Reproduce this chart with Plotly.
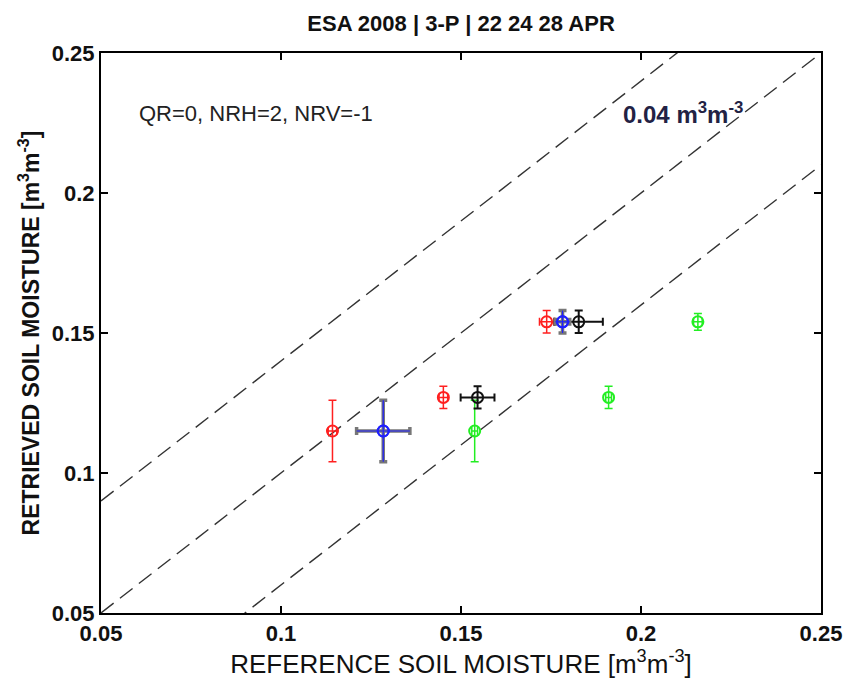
import plotly.graph_objects as go

# Data (reference vs retrieved soil moisture)
red_x = [0.1143, 0.1451, 0.1738]
red_y = [0.115, 0.127, 0.154]
red_ex = [0.0012, 0.0012, 0.0020]
red_ey = [0.011, 0.004, 0.004]

blue_x = [0.1284, 0.1782]
blue_y = [0.115, 0.154]
blue_ex = [0.0074, 0.0020]
blue_ey = [0.011, 0.004]

black_x = [0.1546, 0.1827]
black_y = [0.127, 0.154]
black_ex = [0.0047, 0.0067]
black_ey = [0.004, 0.004]

green_x = [0.1538, 0.191, 0.2158]
green_y = [0.115, 0.127, 0.154]
green_ex = [0.0008, 0.0008, 0.0012]
green_ey = [0.011, 0.004, 0.003]

line_x = [0.05, 0.25]
offsets = [0.04, 0.0, -0.04]

xticks = [0.05, 0.1, 0.15, 0.2, 0.25]
yticks = [0.05, 0.1, 0.15, 0.2, 0.25]

FONT = "Liberation Sans, Arial"

fig = go.Figure()

for off in offsets:
    fig.add_trace(go.Scatter(
        x=line_x, y=[v + off for v in line_x], mode="lines",
        line=dict(color="#333333", width=1.4, dash="16px,8px"),
        showlegend=False, hoverinfo="skip"))

def add_series(xs, ys, ex, ey, color, barcolor=None, thick=1.5):
    bc = barcolor or color
    fig.add_trace(go.Scatter(
        x=xs, y=ys, mode="markers",
        marker=dict(symbol="circle-open", size=11, color=color, line=dict(width=2)),
        error_x=dict(type="data", array=ex, color=bc, thickness=thick, width=4),
        error_y=dict(type="data", array=ey, color=bc, thickness=thick, width=4),
        showlegend=False))

add_series(red_x, red_y, red_ex, red_ey, "#ff2020")
add_series(green_x, green_y, green_ex, green_ey, "#22ee22")
add_series(black_x, black_y, black_ex, black_ey, "#111111", thick=2)
add_series(blue_x, blue_y, blue_ex, blue_ey, "#2020ff", barcolor="#777777", thick=3.5)
fig.add_trace(go.Scatter(
    x=blue_x, y=blue_y, mode="markers",
    marker=dict(symbol="circle-open", size=11, color="#2020ff", line=dict(width=2)),
    error_x=dict(type="data", array=blue_ex, color="#2020ff", thickness=1.2, width=0),
    error_y=dict(type="data", array=blue_ey, color="#2020ff", thickness=1.2, width=0),
    showlegend=False))

fig.add_annotation(x=0.06, y=0.2285, xref="x", yref="y", xanchor="left",
                   text="QR=0, NRH=2, NRV=-1", showarrow=False,
                   font=dict(family=FONT, size=22, color="#222222"))
fig.add_annotation(x=0.2117, y=0.2285, xref="x", yref="y",
                   text="<b>0.04 m<sup>3</sup>m<sup>-3</sup></b>", showarrow=False,
                   font=dict(family=FONT, size=24, color="#222244"))

axis_common = dict(
    automargin=False,
    showgrid=False, zeroline=False, showline=True, linecolor="black", linewidth=2,
    mirror="ticks", ticks="inside", ticklen=7, tickcolor="black", tickwidth=1.5,
    tickfont=dict(family=FONT, size=22, color="#111111", weight="bold"),
)

fig.update_layout(
    width=846, height=693,
    paper_bgcolor="white", plot_bgcolor="white",
    margin=dict(l=101, r=25, t=53, b=80, autoexpand=False),
    title=dict(text="<b>ESA 2008 | 3-P | 22 24 28 APR</b>", x=0.545, xanchor="center",
               y=0.966, yanchor="middle",
               font=dict(family=FONT, size=22, color="#111111")),
    xaxis=dict(range=[0.05, 0.25], tickvals=xticks, ticktext=[str(t) for t in xticks],
               title=dict(text="REFERENCE SOIL MOISTURE [m<sup>3</sup>m<sup>-3</sup>]",
                          font=dict(family=FONT, size=26, color="#111111"),
                          standoff=6),
               **axis_common),
    yaxis=dict(range=[0.05, 0.25], tickvals=yticks, ticktext=[str(t) for t in yticks],
               title=dict(text="<b>RETRIEVED SOIL MOISTURE [m<sup>3</sup>m<sup>-3</sup>]</b>",
                          font=dict(family=FONT, size=23, color="#111111"),
                          standoff=6),
               **axis_common),
)

fig.write_html("out.html", config={"displayModeBar": False},
               post_script="document.body.style.margin='0';")
